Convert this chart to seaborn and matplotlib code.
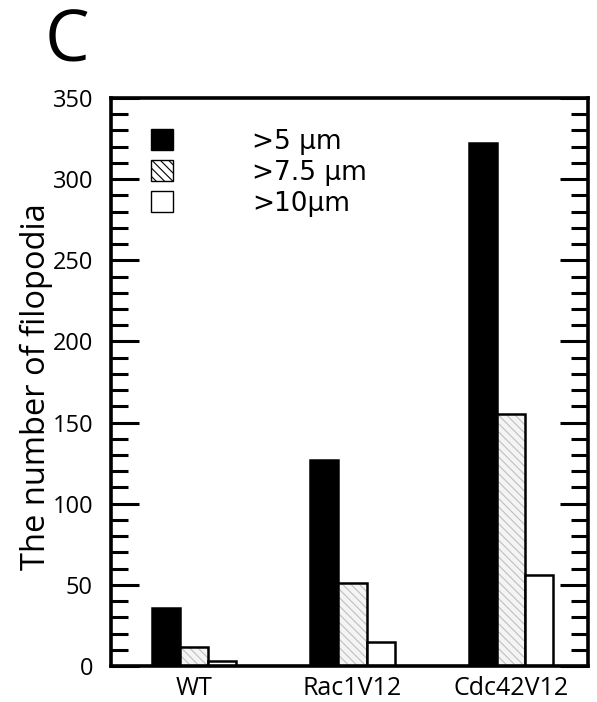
import numpy as np
import pandas as pd
import matplotlib
matplotlib.use("Agg")
import matplotlib.pyplot as plt
from matplotlib.patches import Patch
from matplotlib.ticker import MultipleLocator
import seaborn as sns

# ---- data ----
groups = ["WT", "Rac1V12", "Cdc42V12"]
thresholds = [">5 μm", ">7.5 μm", ">10μm"]
vals_gt5 = [36, 127, 322]
vals_gt75 = [12, 51, 155]
vals_gt10 = [3, 15, 56]
yticks = [0, 50, 100, 150, 200, 250, 300, 350]

rows = []
for th, vals in zip(thresholds, [vals_gt5, vals_gt75, vals_gt10]):
    for g, v in zip(groups, vals):
        rows.append({"group": g, "threshold": th, "count": v})
df = pd.DataFrame(rows)

sns.set_theme(style="white")
plt.rcParams["font.family"] = ["Open Sans", "DejaVu Sans"]
plt.rcParams["hatch.linewidth"] = 0.8

fig = plt.figure(figsize=(5.97, 7.02), dpi=100)
ax = fig.add_axes([111/597, 1-666/702, (588-111)/597, (666-98)/702])

palette = {thresholds[0]: "black", thresholds[1]: "#f4f4f4", thresholds[2]: "white"}
sns.barplot(data=df, x="group", y="count", hue="threshold", hue_order=thresholds,
            order=groups, palette=palette, width=0.53, gap=0, dodge=True,
            edgecolor="black", linewidth=1.8, saturation=1, legend=False, ax=ax)

for p in ax.containers[1]:
    p.set_hatch("\\\\\\\\")
    p._hatch_color = (0.75, 0.75, 0.75, 1.0)

ax.set_xlim(-0.522, 2.484)
ax.set_ylim(0, 350)
ax.set_yticks(yticks)
ax.yaxis.set_minor_locator(MultipleLocator(10))
ax.tick_params(axis="y", which="major", direction="in", length=20, width=2.2,
               left=True, right=True, labelsize=17, pad=13, color="black", labelcolor="black")
ax.tick_params(axis="y", which="minor", direction="in", length=12, width=2.2,
               left=True, right=True, color="black")
ax.tick_params(axis="x", which="both", bottom=False, labelsize=18, pad=1.5, labelcolor="black")
for s in ax.spines.values():
    s.set_visible(True)
    s.set_color("black")
    s.set_linewidth(2.6)

ax.set_xlabel("")
ax.set_ylabel("The number of filopodia", fontsize=23.5, color="black")
ax.yaxis.set_label_coords(-0.122, 0.492)

handles = [Patch(facecolor="black", edgecolor="black"),
           Patch(facecolor="white", edgecolor="black", hatch="\\\\\\\\"),
           Patch(facecolor="white", edgecolor="black")]
leg = ax.legend(handles, thresholds, loc="upper left", bbox_to_anchor=(0.084, 0.946),
                frameon=False, prop={"family": "DejaVu Sans", "size": 19},
                handlelength=0.83, handleheight=0.83,
                handletextpad=3.0, labelspacing=0.19, borderpad=0, borderaxespad=0)
for t in leg.get_texts():
    t.set_color("black")

fig.text(45/597, 1-62/702, "C", fontsize=51, ha="left", va="baseline", color="black")

fig.savefig("out.png", dpi=100)
